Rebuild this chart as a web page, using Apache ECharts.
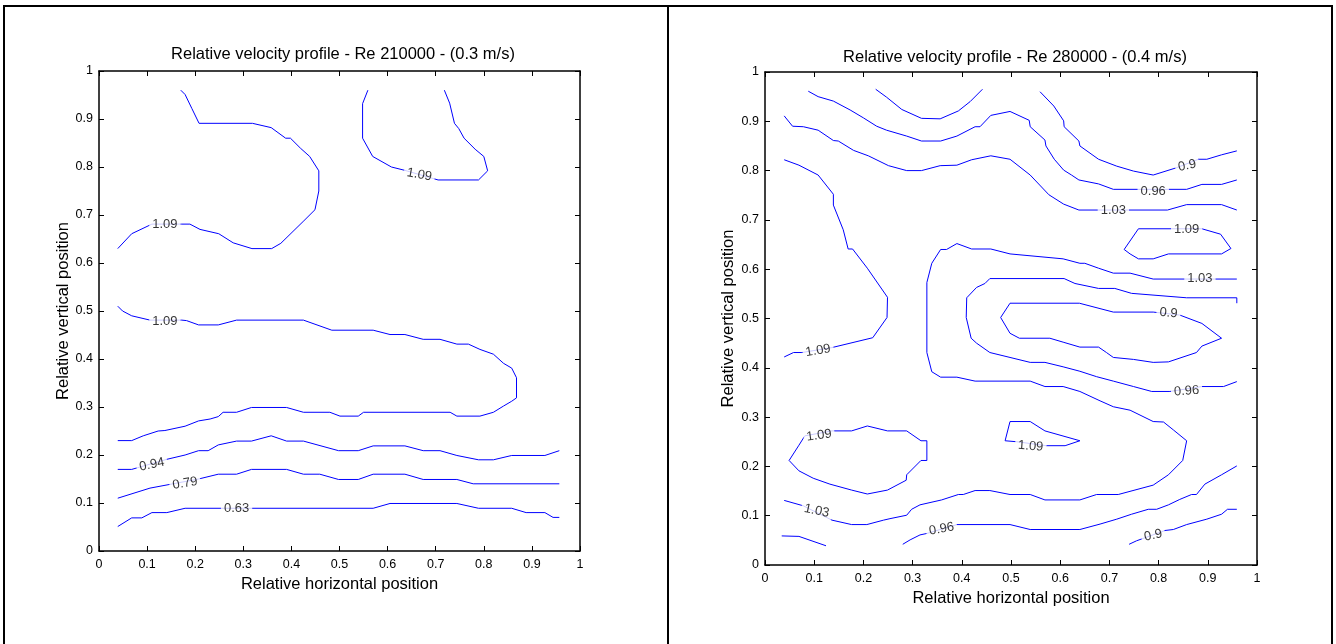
<!DOCTYPE html>
<html>
<head>
<meta charset="utf-8">
<script src="https://cdn.jsdelivr.net/npm/echarts@6/dist/echarts.min.js"></script>
<style>
  html, body { margin: 0; padding: 0; background: #fff; }
  #chart { width: 1336px; height: 644px; }
</style>
</head>
<body>
<div id="chart"></div>
<script>
// ---- Tick values shared by both panels ----
const tickValues = [0, 0.1, 0.2, 0.3, 0.4, 0.5, 0.6, 0.7, 0.8, 0.9, 1];

const titles = [
  'Relative velocity profile - Re 210000 - (0.3 m/s)',
  'Relative velocity profile - Re 280000 - (0.4 m/s)'
];
const xAxisName = 'Relative horizontal position';
const yAxisName = 'Relative vertical position';

// ---- Re 210000 contour lines: [relative x, relative y] ----
const left109Upper = [[0.170,0.960],[0.179,0.951],[0.193,0.922],[0.208,0.891],[0.319,0.891],[0.358,0.882],[0.388,0.860],[0.398,0.860],[0.419,0.839],[0.438,0.822],[0.457,0.792],[0.457,0.750],[0.449,0.711],[0.426,0.688],[0.378,0.641],[0.359,0.630],[0.318,0.630],[0.279,0.642],[0.249,0.661],[0.210,0.670],[0.189,0.681],[0.172,0.681],[0.110,0.681],[0.068,0.661],[0.039,0.630]];
const left109Pocket = [[0.559,0.960],[0.548,0.932],[0.548,0.860],[0.569,0.822],[0.608,0.800],[0.636,0.793],[0.705,0.773],[0.789,0.773],[0.808,0.792],[0.800,0.822],[0.782,0.837],[0.759,0.860],[0.748,0.880],[0.739,0.891],[0.729,0.933],[0.718,0.960]];
const left109Lower = [[0.039,0.510],[0.049,0.500],[0.068,0.490],[0.106,0.481],[0.172,0.481],[0.182,0.480],[0.207,0.471],[0.248,0.471],[0.286,0.481],[0.425,0.481],[0.484,0.460],[0.570,0.460],[0.605,0.451],[0.636,0.451],[0.674,0.441],[0.709,0.441],[0.744,0.431],[0.768,0.431],[0.792,0.420],[0.820,0.410],[0.841,0.391],[0.858,0.381],[0.868,0.361],[0.868,0.319],[0.858,0.312],[0.841,0.302],[0.820,0.289],[0.792,0.281],[0.744,0.281],[0.730,0.289],[0.550,0.289],[0.539,0.281],[0.501,0.281],[0.480,0.289],[0.425,0.289],[0.390,0.299],[0.317,0.299],[0.286,0.289],[0.258,0.289],[0.248,0.280],[0.231,0.275],[0.207,0.271],[0.179,0.260],[0.137,0.251],[0.123,0.250],[0.092,0.240],[0.068,0.230],[0.039,0.230]];
const left094 = [[0.039,0.170],[0.068,0.170],[0.141,0.191],[0.179,0.200],[0.207,0.209],[0.227,0.209],[0.248,0.221],[0.286,0.229],[0.317,0.229],[0.358,0.240],[0.390,0.229],[0.425,0.229],[0.498,0.209],[0.539,0.209],[0.570,0.219],[0.636,0.219],[0.674,0.209],[0.709,0.209],[0.744,0.199],[0.789,0.190],[0.820,0.190],[0.858,0.199],[0.927,0.199],[0.957,0.209]];
const left079 = [[0.039,0.110],[0.106,0.131],[0.207,0.150],[0.248,0.160],[0.286,0.160],[0.317,0.170],[0.390,0.170],[0.425,0.160],[0.459,0.160],[0.498,0.149],[0.539,0.149],[0.570,0.160],[0.636,0.160],[0.674,0.149],[0.744,0.149],[0.778,0.140],[0.957,0.140]];
const left063 = [[0.039,0.051],[0.068,0.069],[0.089,0.069],[0.110,0.080],[0.141,0.080],[0.179,0.089],[0.570,0.089],[0.605,0.099],[0.744,0.099],[0.789,0.089],[0.858,0.089],[0.888,0.080],[0.927,0.080],[0.944,0.070],[0.957,0.070]];

// Contour level labels: [x, y, level]
const leftLevelLabels = [[0.137,0.680,1.09],[0.666,0.784,1.09],[0.137,0.479,1.09],[0.110,0.180,0.94],[0.179,0.141,0.79],[0.286,0.089,0.63]];
const leftLabelAngles = [0, -10, 0, 12, 10, 0];

// ---- Re 280000 contour lines ----
const rightArch = [[0.225,0.965],[0.247,0.949],[0.278,0.924],[0.318,0.906],[0.356,0.905],[0.393,0.921],[0.417,0.940],[0.442,0.965]];
const right090Upper = [[0.559,0.960],[0.587,0.931],[0.607,0.901],[0.608,0.889],[0.638,0.860],[0.640,0.850],[0.678,0.823],[0.715,0.809],[0.749,0.799],[0.789,0.791],[0.837,0.806],[0.881,0.823],[0.898,0.823],[0.928,0.832],[0.959,0.840]];
const right096Upper = [[0.088,0.961],[0.108,0.950],[0.139,0.941],[0.173,0.923],[0.200,0.907],[0.227,0.890],[0.247,0.882],[0.288,0.870],[0.318,0.860],[0.357,0.860],[0.390,0.870],[0.427,0.889],[0.437,0.889],[0.459,0.912],[0.498,0.920],[0.537,0.902],[0.539,0.889],[0.569,0.862],[0.571,0.850],[0.588,0.823],[0.607,0.801],[0.623,0.791],[0.638,0.781],[0.678,0.773],[0.708,0.762],[0.820,0.762],[0.857,0.762],[0.888,0.772],[0.928,0.772],[0.959,0.781]];
const right103Upper = [[0.039,0.911],[0.056,0.890],[0.078,0.889],[0.108,0.882],[0.139,0.861],[0.149,0.860],[0.180,0.841],[0.210,0.830],[0.251,0.810],[0.288,0.800],[0.318,0.800],[0.356,0.810],[0.390,0.811],[0.420,0.822],[0.459,0.830],[0.498,0.823],[0.539,0.791],[0.577,0.751],[0.607,0.732],[0.638,0.720],[0.818,0.720],[0.857,0.731],[0.928,0.731],[0.959,0.720]];
const right109West = [[0.039,0.822],[0.069,0.811],[0.108,0.791],[0.139,0.752],[0.139,0.730],[0.159,0.680],[0.169,0.641],[0.178,0.641],[0.208,0.602],[0.249,0.543],[0.248,0.502],[0.219,0.461],[0.136,0.441],[0.075,0.431],[0.058,0.431],[0.039,0.422]];
const right103Main = [[0.039,0.131],[0.078,0.120],[0.136,0.091],[0.176,0.082],[0.207,0.082],[0.241,0.091],[0.254,0.094],[0.288,0.101],[0.298,0.113],[0.315,0.122],[0.359,0.132],[0.393,0.143],[0.403,0.143],[0.427,0.151],[0.457,0.151],[0.498,0.143],[0.539,0.143],[0.569,0.132],[0.640,0.132],[0.674,0.143],[0.718,0.143],[0.789,0.162],[0.820,0.183],[0.849,0.212],[0.857,0.252],[0.830,0.274],[0.810,0.290],[0.789,0.291],[0.742,0.314],[0.708,0.321],[0.681,0.333],[0.640,0.352],[0.606,0.362],[0.569,0.362],[0.539,0.373],[0.427,0.373],[0.390,0.381],[0.357,0.381],[0.339,0.392],[0.329,0.431],[0.329,0.573],[0.339,0.612],[0.357,0.640],[0.369,0.640],[0.390,0.652],[0.420,0.641],[0.459,0.641],[0.498,0.631],[0.606,0.621],[0.640,0.612],[0.650,0.612],[0.678,0.602],[0.708,0.592],[0.742,0.592],[0.789,0.580],[0.959,0.580]];
const right096Main = [[0.959,0.531],[0.959,0.542],[0.857,0.542],[0.745,0.551],[0.711,0.561],[0.678,0.561],[0.630,0.571],[0.608,0.581],[0.457,0.581],[0.447,0.571],[0.430,0.563],[0.410,0.542],[0.409,0.502],[0.419,0.460],[0.430,0.450],[0.457,0.431],[0.498,0.421],[0.539,0.411],[0.569,0.411],[0.606,0.402],[0.640,0.393],[0.674,0.382],[0.708,0.373],[0.749,0.362],[0.786,0.352],[0.823,0.352],[0.888,0.362],[0.932,0.362],[0.959,0.372]];
const right090Loop = [[0.498,0.531],[0.639,0.531],[0.708,0.513],[0.789,0.513],[0.843,0.507],[0.888,0.490],[0.928,0.460],[0.888,0.444],[0.877,0.431],[0.820,0.412],[0.789,0.411],[0.749,0.417],[0.708,0.421],[0.694,0.431],[0.678,0.442],[0.640,0.442],[0.606,0.452],[0.579,0.460],[0.517,0.460],[0.498,0.470],[0.479,0.502],[0.498,0.531]];
const right109East = [[0.730,0.640],[0.759,0.682],[0.888,0.682],[0.926,0.671],[0.947,0.642],[0.928,0.631],[0.820,0.631],[0.789,0.621],[0.759,0.621],[0.742,0.631],[0.730,0.640]];
const right109SouthWest = [[0.049,0.212],[0.069,0.243],[0.081,0.262],[0.136,0.272],[0.176,0.272],[0.208,0.282],[0.249,0.272],[0.288,0.272],[0.317,0.252],[0.329,0.252],[0.329,0.212],[0.317,0.212],[0.288,0.183],[0.287,0.172],[0.249,0.152],[0.208,0.144],[0.176,0.152],[0.132,0.164],[0.098,0.176],[0.069,0.191],[0.049,0.212]];
const right109Centre = [[0.488,0.252],[0.498,0.291],[0.539,0.291],[0.569,0.272],[0.640,0.252],[0.610,0.242],[0.572,0.242],[0.512,0.250],[0.488,0.252]];
const rightShortSW = [[0.034,0.059],[0.069,0.058],[0.124,0.039]];
const right096Lower = [[0.280,0.042],[0.295,0.051],[0.315,0.061],[0.329,0.064],[0.390,0.082],[0.498,0.082],[0.539,0.072],[0.640,0.072],[0.681,0.083],[0.715,0.093],[0.745,0.103],[0.779,0.113],[0.796,0.113],[0.820,0.122],[0.843,0.133],[0.867,0.143],[0.877,0.143],[0.894,0.164],[0.928,0.183],[0.959,0.201]];
const right090Lower = [[0.740,0.042],[0.755,0.049],[0.813,0.070],[0.830,0.072],[0.857,0.082],[0.898,0.093],[0.928,0.103],[0.940,0.113],[0.959,0.113]];

const rightLevelLabels = [[0.858,0.810,0.9],[0.789,0.757,0.96],[0.708,0.719,1.03],[0.857,0.680,1.09],[0.884,0.581,1.03],[0.820,0.511,0.9],[0.108,0.435,1.09],[0.857,0.353,0.96],[0.110,0.263,1.09],[0.540,0.241,1.09],[0.105,0.110,1.03],[0.359,0.073,0.96],[0.789,0.060,0.9]];
const rightLabelAngles = [12, 0, 0, 0, 0, -5, 10, 4, 8, -4, -12, 10, 12];

const leftLines = [left109Upper, left109Pocket, left109Lower, left094, left079, left063];
const rightLines = [rightArch, right090Upper, right096Upper, right103Upper, right109West, right103Main,
  right096Main, right090Loop, right109East, right109SouthWest, right109Centre, rightShortSW, right096Lower, right090Lower];

// ---- Styling ----
const FONT = '"Liberation Sans", Arial, Helvetica, sans-serif';
const LINE_BLUE = '#0000ff';
const TITLE_SIZE = 16.5;
const NAME_SIZE = 16.5;
const TICK_SIZE = 12.5;

function fmtTick(v) { return String(+v.toFixed(1)); }

function makeXAxes(gridIndex, nameGap) {
  const common = {
    gridIndex, type: 'value', min: tickValues[0], max: tickValues[tickValues.length - 1], interval: 0.1,
    splitLine: { show: false },
    axisLine: { show: true, onZero: false, lineStyle: { color: '#000', width: 1.5 } },
    axisTick: { show: true, inside: true, length: 5, lineStyle: { color: '#000', width: 1 } }
  };
  return [
    Object.assign({}, common, {
      position: 'bottom',
      axisLabel: { color: '#000', fontSize: TICK_SIZE, fontFamily: FONT, margin: 7, formatter: fmtTick },
      name: xAxisName, nameLocation: 'middle', nameGap,
      nameTextStyle: { color: '#000', fontSize: NAME_SIZE, fontFamily: FONT }
    }),
    Object.assign({}, common, { position: 'top', axisLabel: { show: false } })
  ];
}

function makeYAxes(gridIndex, nameGap) {
  const common = {
    gridIndex, type: 'value', min: tickValues[0], max: tickValues[tickValues.length - 1], interval: 0.1,
    splitLine: { show: false },
    axisLine: { show: true, onZero: false, lineStyle: { color: '#000', width: 1.5 } },
    axisTick: { show: true, inside: true, length: 5, lineStyle: { color: '#000', width: 1 } }
  };
  return [
    Object.assign({}, common, {
      position: 'left',
      axisLabel: { color: '#000', fontSize: TICK_SIZE, fontFamily: FONT, margin: 6, formatter: fmtTick },
      name: yAxisName, nameLocation: 'middle', nameGap, nameRotate: 90,
      nameTextStyle: { color: '#000', fontSize: NAME_SIZE, fontFamily: FONT }
    }),
    Object.assign({}, common, { position: 'right', axisLabel: { show: false } })
  ];
}

function lineSeries(lines, axisIndex) {
  return lines.map(pts => ({
    type: 'line', xAxisIndex: axisIndex, yAxisIndex: axisIndex,
    data: pts, showSymbol: false, symbol: 'none', smooth: false, silent: true,
    lineStyle: { color: LINE_BLUE, width: 1 }, z: 2
  }));
}

function labelSeries(labels, angles, axisIndex) {
  return {
    type: 'scatter', xAxisIndex: axisIndex, yAxisIndex: axisIndex, silent: true, z: 5,
    symbolSize: 1, itemStyle: { color: 'rgba(0,0,0,0)' },
    data: labels.map((l, i) => ({
      value: [l[0], l[1], l[2]],
      label: { rotate: angles[i] }
    })),
    label: {
      show: true, position: 'inside',
      formatter: p => String(p.value[2]),
      color: '#000', fontSize: 13, fontFamily: FONT,
      backgroundColor: '#fff', padding: [0, 3]
    }
  };
}

const xAxes = [...makeXAxes(0, 16), ...makeXAxes(1, 14)];
const yAxes = [...makeYAxes(0, 27), ...makeYAxes(1, 28)];
// axis pairs: grid0 -> x0/y0 (bottom/left) and x1/y1 (top/right); grid1 -> x2/y2 and x3/y3

const option = {
  animation: false,
  backgroundColor: '#fff',
  title: [
    { text: titles[0], left: 338, top: 41, textAlign: 'center',
      textStyle: { fontSize: TITLE_SIZE, fontWeight: 'normal', color: '#000', fontFamily: FONT } },
    { text: titles[1], left: 1010, top: 44, textAlign: 'center',
      textStyle: { fontSize: TITLE_SIZE, fontWeight: 'normal', color: '#000', fontFamily: FONT } }
  ],
  grid: [
    { left: 99, top: 71, width: 481, height: 480 },
    { left: 765, top: 72, width: 492, height: 493 }
  ],
  xAxis: xAxes,
  yAxis: yAxes,
  series: [
    ...lineSeries(leftLines, 0),
    labelSeries(leftLevelLabels, leftLabelAngles, 0),
    ...lineSeries(rightLines, 2),
    labelSeries(rightLevelLabels, rightLabelAngles, 2)
  ],
  graphic: [
    { type: 'line', shape: { x1: 3, y1: 6, x2: 1333, y2: 6 }, style: { stroke: '#000', lineWidth: 2 } },
    { type: 'line', shape: { x1: 4, y1: 5, x2: 4, y2: 644 }, style: { stroke: '#000', lineWidth: 2 } },
    { type: 'line', shape: { x1: 668, y1: 5, x2: 668, y2: 644 }, style: { stroke: '#000', lineWidth: 2 } },
    { type: 'line', shape: { x1: 1332, y1: 5, x2: 1332, y2: 644 }, style: { stroke: '#000', lineWidth: 2 } }
  ]
};

const chart = echarts.init(document.getElementById('chart'), null, { renderer: 'canvas' });
chart.setOption(option);
</script>
</body>
</html>
